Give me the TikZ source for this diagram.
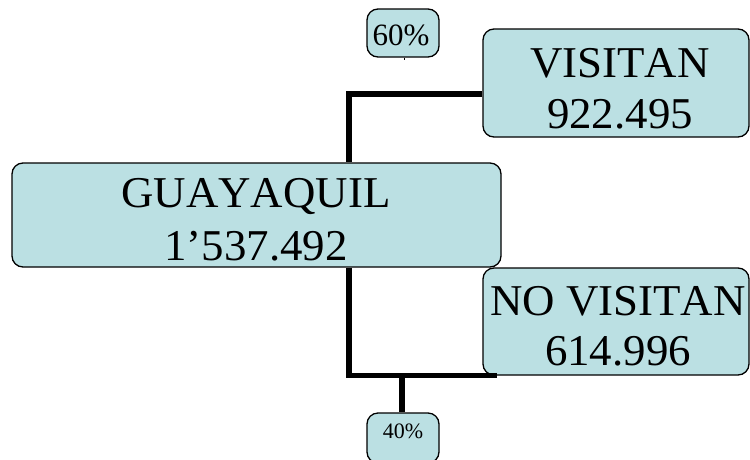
\documentclass[tikz,border=0pt]{standalone}
\usepackage{fontspec}
\setmainfont{Liberation Serif}
\newfontfamily\widefont[FakeStretch=1.02,Kerning=Off]{Liberation Serif}
\definecolor{boxfill}{RGB}{187,224,227}
\begin{document}
\begin{tikzpicture}[x=1pt,y=-1pt,
  boxstyle/.style={draw=black, line width=1.3pt, fill=boxfill, rounded corners=11pt, inner sep=0pt},
  bigtext/.style={anchor=base, inner sep=0pt, font=\widefont\fontsize{44}{44}\selectfont},
  pcttext/.style={anchor=base, inner sep=0pt},
  link/.style={line width=5.5pt, black},
  thinlink/.style={line width=0.6pt, black}]
\useasboundingbox (0,0) rectangle (750,459);
% boxes
\node[boxstyle, minimum width=489pt, minimum height=104pt] (gye) at (256.5,215) {};
\node[boxstyle, minimum width=266pt, minimum height=108pt] (vis) at (616,83) {};
\node[boxstyle, minimum width=266pt, minimum height=107pt] (novis) at (616,321.5) {};
\node[boxstyle, minimum width=72pt, minimum height=48pt] (p60) at (403,33) {};
\node[boxstyle, minimum width=72pt, minimum height=50pt] (p40) at (403,438) {};
% connectors
\coordinate (topturn) at (349,94);
\coordinate (botturn) at (349,375.5);
\coordinate (botend) at (497,375.5);
\coordinate (botmid) at (402,375.5);
\coordinate (stub) at (404,60);
\draw[link] (vis.west |- topturn) -- (topturn) -- (topturn |- gye.north);
\draw[link] (topturn |- gye.south) -- (botturn) -- (botend);
\draw[link] (botmid) -- (botmid |- p40.north);
\draw[thinlink] (p60.south -| stub) -- (stub);
% texts
\node[bigtext] (gye1) at (256,207) {GUAYAQUIL};
\node[bigtext] (gye2) at (256,260) {1’537.492};
\node[bigtext] (vis1) at (620,77) {VISITAN};
\node[bigtext] (vis2) at (620,128) {922.495};
\node[bigtext] (novis1) at (618,315) {NO VISITAN};
\node[bigtext] (novis2) at (618,365) {614.996};
\node[pcttext, font=\fontsize{31}{31}\selectfont] (p60t) at (401,45) {60\%};
\node[pcttext, font=\fontsize{22}{22}\selectfont] (p40t) at (403,438) {40\%};
\end{tikzpicture}
\end{document}
